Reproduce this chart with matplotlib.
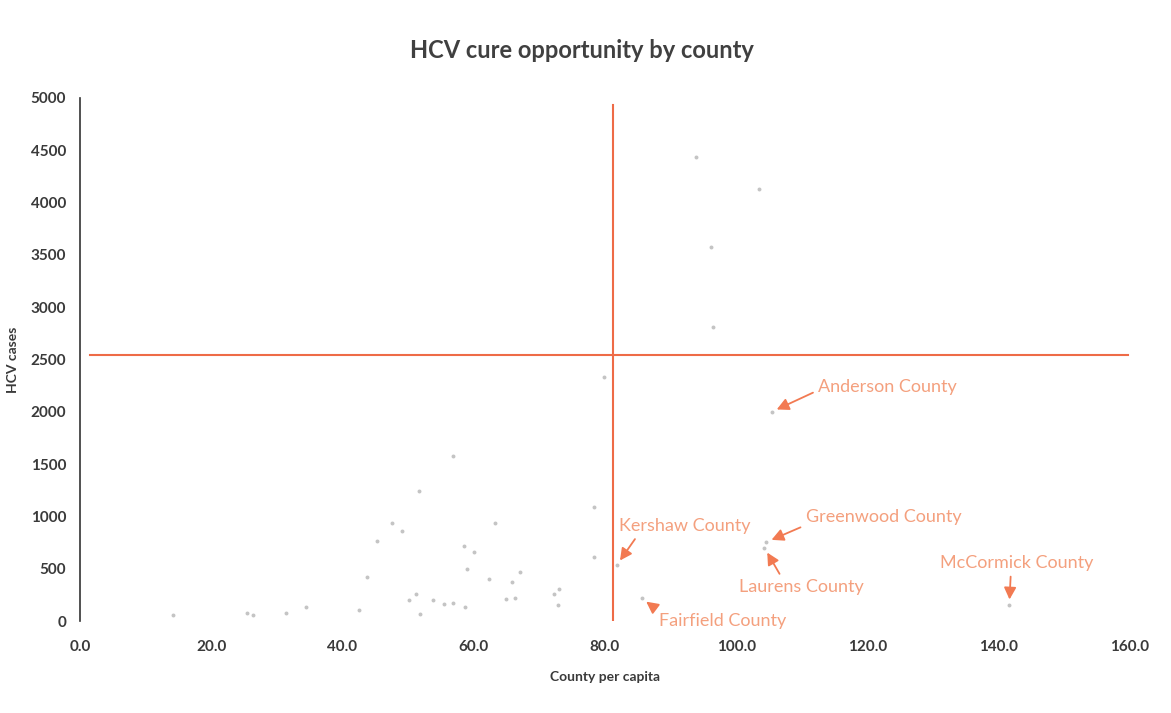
import matplotlib
matplotlib.use("Agg")
import matplotlib.pyplot as plt
from matplotlib.ticker import FormatStrFormatter

# county per capita (x) and HCV cases (y)
per_capita = [14.1, 25.4, 26.4, 31.4, 34.5, 42.5, 43.8, 45.2, 47.5, 49.1,
              50.2, 51.2, 51.6, 51.8, 53.8, 55.5, 56.8, 56.8, 58.5, 58.6,
              59.0, 60.0, 62.4, 63.3, 64.9, 65.9, 66.3, 67.1, 72.2, 72.9,
              73.0, 78.3, 78.3, 79.9, 81.8, 85.6, 93.8, 96.1, 96.5, 103.4,
              104.6, 104.3, 105.4, 141.6]
hcv_cases = [57, 73, 57, 73, 137, 105, 425, 765, 940, 863,
             201, 258, 1246, 67, 201, 160, 1577, 169, 720, 137,
             494, 663, 405, 940, 207, 376, 223, 471, 255, 153,
             303, 1093, 609, 2330, 535, 217, 4437, 3580, 2815, 4128,
             755, 700, 2000, 153]

# reference lines (averages)
ref_x = 81.2
ref_y = 2540
ref_y_line_top = 4930

# labelled counties: name, point, text position (left edge), arrow start on text
labels = ["Anderson County", "Greenwood County", "Kershaw County",
          "Laurens County", "McCormick County", "Fairfield County"]
label_pts = [(105.4, 2000), (104.6, 755), (81.8, 535),
             (104.3, 700), (141.6, 153), (85.6, 217)]
label_txt = [(112.5, 2237), (110.6, 994), (82.1, 908),
             (100.4, 325), (131.1, 554), (88.2, 0)]
label_rel = [(0.0, 0.3), (0.0, 0.0), (0.15, 0.0),
             (0.35, 1.0), (0.46, 0.0), (0.02, 1.0)]

font = ["Lato", "DejaVu Sans"]
tick_color = "#3a3a3a"
line_col = "#EE6B47"
label_col = "#F4A07E"
arrow_col = "#F27A52"

fig = plt.figure(figsize=(11.71, 7.13), dpi=100)
ax = fig.add_axes([0.0683, 0.129, 0.8967, 0.7336])

ax.scatter(per_capita, hcv_cases, s=8, color="#C4C4C4", marker="o",
           linewidths=0, zorder=3)

ax.plot([ref_x, ref_x], [0, ref_y_line_top], color=line_col, lw=1.5, zorder=2)
ax.plot([1.5, 159.7], [ref_y, ref_y], color=line_col, lw=1.5, zorder=2)

for name, pt, tp, rel in zip(labels, label_pts, label_txt, label_rel):
    ax.annotate(name, xy=pt, xytext=tp, ha="left", va="center",
                fontsize=13, color=label_col, family=font,
                arrowprops=dict(arrowstyle="-|>,head_length=0.55,head_width=0.28",
                                color=arrow_col, lw=1.3, relpos=rel,
                                shrinkA=2, shrinkB=4))

ax.set_xlim(0, 160)
ax.set_ylim(0, 5000)
ax.set_xticks(range(0, 161, 20))
ax.set_yticks(range(0, 5001, 500))
ax.xaxis.set_major_formatter(FormatStrFormatter("%.1f"))
ax.tick_params(length=0, labelsize=11, colors=tick_color)
ax.tick_params(axis="x", pad=14)
ax.tick_params(axis="y", pad=10)
for lab in ax.get_xticklabels() + ax.get_yticklabels():
    lab.set_family(font)
    lab.set_fontweight("bold")

for side in ["top", "right", "bottom"]:
    ax.spines[side].set_visible(False)
ax.spines["left"].set_color("#333333")
ax.spines["left"].set_linewidth(1.2)

ax.set_xlabel("County per capita", fontsize=10, fontweight="bold",
              family=font, color=tick_color, labelpad=12)
ax.set_ylabel("HCV cases", fontsize=10, fontweight="bold",
              family=font, color=tick_color, labelpad=8)
fig.suptitle("HCV cure opportunity by county", x=0.497, y=0.945,
             fontsize=17, fontweight="bold", family=font, color="#404040")

fig.savefig("out.png", dpi=100)
